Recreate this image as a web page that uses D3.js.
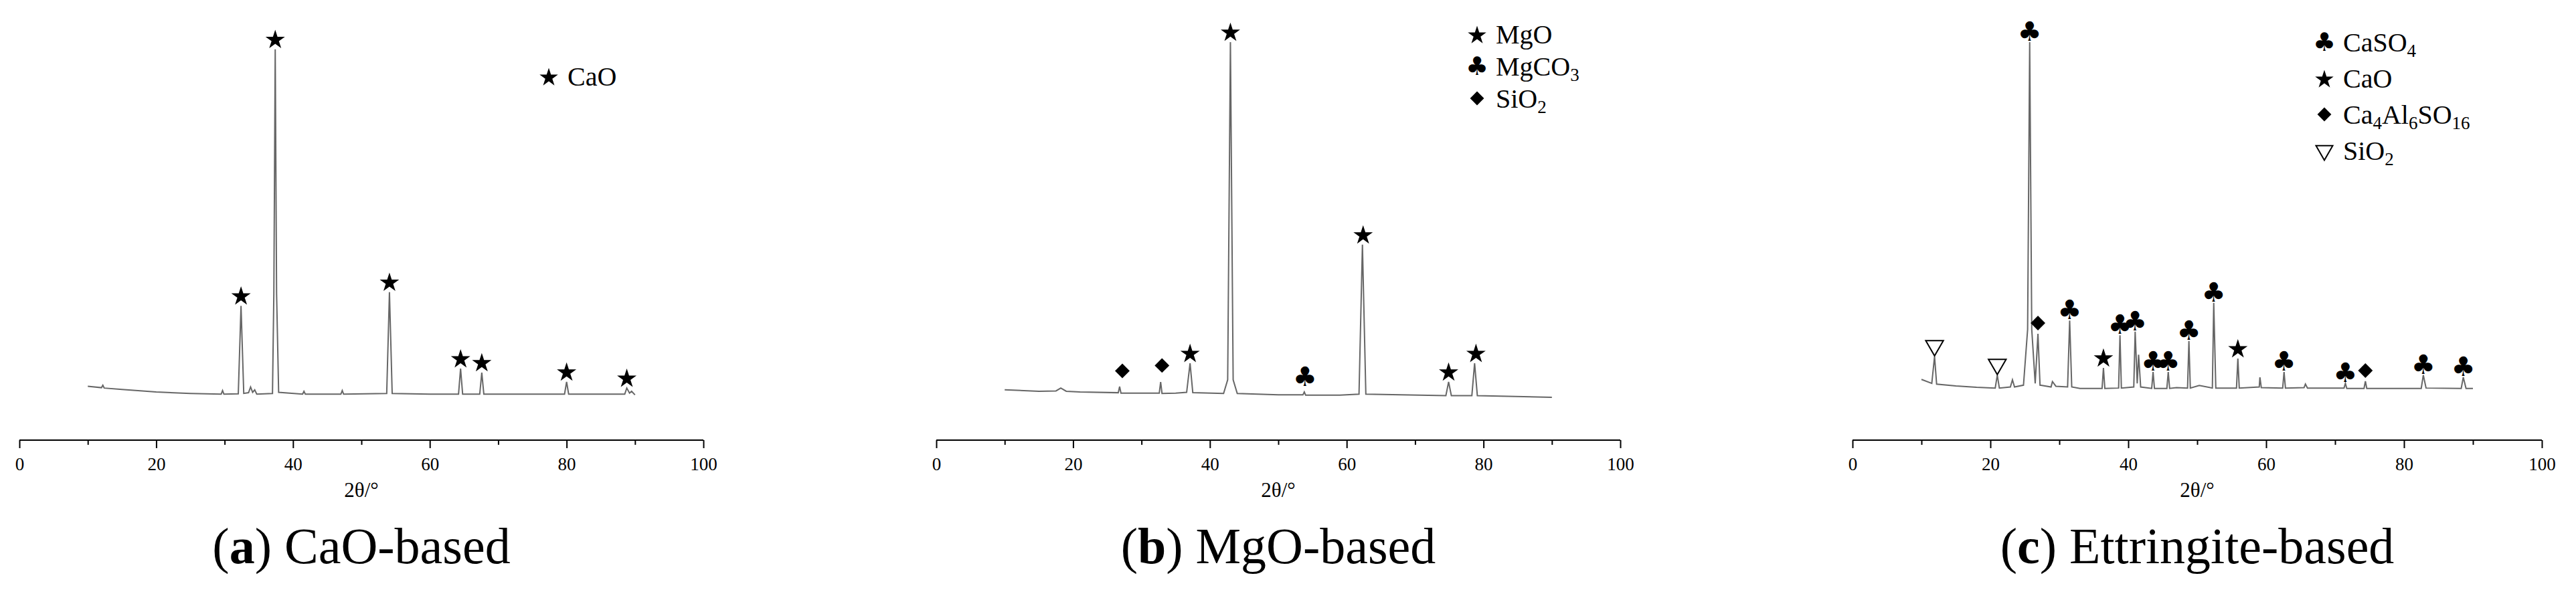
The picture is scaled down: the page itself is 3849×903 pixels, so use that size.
<!DOCTYPE html>
<html><head><meta charset="utf-8">
<script src="https://cdn.jsdelivr.net/npm/d3@7"></script>
<style>body{margin:0;background:#fff}svg{display:block}</style>
</head><body><svg id="c" width="3849" height="903"></svg>
<script>
const xTicks=[0,20,40,60,80,100];
const seriesA=[[10,4.2],[12,3.8],[12.2,4.5],[12.4,3.7],[15,3.3],[20,2.6],[25,2.2],[29.5,2],[29.7,3],[29.9,2],[32,2.1],[32.4,26.6],[32.8,2.2],[33.5,2.4],[33.8,4],[34.1,2.5],[34.4,3.2],[34.7,2],[37,2.2],[37.2,30],[37.4,98],[37.6,30],[37.9,2.5],[41.4,2],[41.6,2.8],[41.8,2],[47,2],[47.2,3],[47.4,2],[53.7,2.2],[54.1,30.4],[54.5,2.2],[60,2],[64.2,2],[64.5,9.1],[64.8,2],[67.3,2],[67.6,8],[67.9,2],[79.7,2],[80,5.4],[80.3,2],[88.5,2],[88.8,3.7],[89.2,2.3],[89.5,2.8],[90,1.8]];
const seriesB=[[10,3.2],[15,2.8],[17.5,2.9],[18.2,3.7],[19,2.8],[21,2.6],[26.6,2.4],[26.8,4.1],[27,2.3],[32.6,2.3],[32.8,5.4],[33,2.2],[35,2.3],[36.6,2.5],[37.1,10.6],[37.5,2.4],[42,2.2],[42.6,6],[43,100],[43.4,6],[44,2.2],[50,1.8],[53.6,1.8],[53.8,2.6],[54,1.7],[59,1.7],[61.8,2],[62.3,43.6],[62.8,2],[74.5,1.6],[74.9,5.4],[75.3,1.6],[78.3,1.6],[78.7,10.6],[79.1,1.6],[90,1.1]];
const seriesC=[[10,6.1],[11.5,5],[11.9,12.5],[12.2,4.8],[15,4.3],[18,3.9],[20.7,3.7],[21,7.3],[21.3,3.7],[22.9,4],[23.2,6],[23.5,4],[24.8,4.5],[25.4,20],[25.7,100],[26,20],[26.5,5],[26.9,18.8],[27.2,4.5],[28.8,4],[29,5.5],[29.5,4.2],[31.2,4],[31.5,22.5],[31.8,4],[33,3.6],[36.2,3.6],[36.4,9.3],[36.6,3.6],[38.6,3.7],[38.8,18.4],[39,3.7],[40.8,4],[41,19.4],[41.3,5],[41.5,13],[41.8,4],[43.4,3.6],[43.6,8.2],[43.8,3.6],[45.6,3.6],[45.8,8.2],[46,3.6],[47,3.8],[48.6,3.7],[48.8,16.8],[49,3.7],[50.3,4.4],[52.2,3.7],[52.4,27.4],[52.7,3.7],[55.7,3.7],[55.9,11.9],[56.1,3.7],[59,4],[59.1,6.7],[59.3,3.8],[62.4,3.7],[62.6,8.2],[62.8,3.7],[65.5,3.8],[65.7,4.8],[66,3.7],[71.3,3.7],[71.5,5],[71.7,3.6],[74.2,3.6],[74.4,5.6],[74.6,3.6],[82.5,3.6],[82.8,7.3],[83.2,3.7],[88.3,3.6],[88.6,6.7],[89,3.6],[90,3.6]];
const markersA=[[32.4,26.6,"star"],[37.4,98,"star"],[54.1,30.4,"star"],[64.5,9.1,"star"],[67.6,8,"star"],[80,5.4,"star"],[88.8,3.7,"star"]];
const markersB=[[27.2,5.5,"diamond"],[33,7,"diamond"],[37.1,10.6,"star"],[43,100,"star"],[53.9,4,"club"],[62.4,43.6,"star"],[74.9,5.4,"star"],[78.9,10.6,"star"]];
const markersC=[[11.9,12.5,"tri"],[21,7.3,"tri"],[25.7,100,"club"],[26.9,18.8,"diamond"],[31.5,22.5,"club"],[36.4,9.3,"star"],[38.8,18.4,"club"],[41,19.4,"club"],[43.6,8.2,"club"],[45.8,8.2,"club"],[48.8,16.8,"club"],[52.4,27.4,"club"],[55.9,11.9,"star"],[62.6,8.2,"club"],[71.5,5,"club"],[74.4,5.6,"diamond"],[82.8,7.3,"club"],[88.6,6.7,"club"]];
const legendA=[["star","CaO",""]];
const legendB=[["star","MgO",""],["club","MgCO","3"],["diamond","SiO","2"]];
const legendC=[["club","CaSO","4"],["star","CaO",""],["diamond","Ca4Al6SO16",""],["tri","SiO","2"]];
const captions=[["a","CaO-based"],["b","MgO-based"],["c","Ettringite-based"]];

const svg=d3.select("#c");
svg.append("rect").attr("width",3849).attr("height",903).attr("fill","#fff");
const serif="'Liberation Serif','DejaVu Serif',serif";

function drawSym(g,type,x,y,s){
  s=s||1;
  if(type==="club"){
    g.append("text").attr("x",x).attr("y",y).attr("text-anchor","middle").attr("dominant-baseline","central")
     .attr("font-family","DejaVu Sans").attr("font-size",40*s).text("♣");
  }else if(type==="star"){
    g.append("path").attr("d",d3.symbol(d3.symbolStar,260*s*s)()).attr("transform",`translate(${x},${y+2})`).attr("fill","#000");
  }else if(type==="diamond"){
    g.append("path").attr("d",d3.symbol(d3.symbolSquare,240*s*s)()).attr("transform",`translate(${x},${y}) rotate(45)`).attr("fill","#000");
  }else{
    g.append("path").attr("d",d3.symbol(d3.symbolTriangle,300*s*s)()).attr("transform",`translate(${x},${y}) rotate(180)`).attr("fill","none").attr("stroke","#000").attr("stroke-width",2);
  }
}

function panel(x0,x1,data,markers,legend,legX,legY,legGap,cap){
  const g=svg.append("g");
  const x=d3.scaleLinear().domain([0,100]).range([x0,x1]);
  const y=d3.scaleLinear().domain([0,100]).range([600,63]);
  g.append("path").datum(data).attr("fill","none").attr("stroke","#666").attr("stroke-width",2)
   .attr("d",d3.line().x(d=>x(d[0])).y(d=>y(d[1])));
  markers.forEach(m=>drawSym(g,m[2],x(m[0]),y(m[1])-16));
  const ax=g.append("g").attr("transform","translate(0,658)");
  ax.call(d3.axisBottom(x).tickValues(xTicks).tickSize(12).tickFormat(d3.format("d")));
  ax.append("g").call(d3.axisBottom(x).tickValues(d3.range(10,100,20)).tickSize(7).tickFormat(""));
  ax.selectAll(".domain").attr("stroke","#000").attr("stroke-width",2).attr("d",`M${x0},0H${x1}`);
  ax.selectAll("line").attr("stroke","#000").attr("stroke-width",2);
  ax.selectAll("text").attr("font-family",serif).attr("font-size",27).attr("fill","#000").attr("dy","1.1em");
  g.append("text").attr("x",(x0+x1)/2).attr("y",743).attr("text-anchor","middle").attr("font-family",serif).attr("font-size",31).text("2θ/°");
  legend.forEach((l,i)=>{
    const yy=legY+i*legGap;
    drawSym(g,l[0],legX,yy,0.95);
    const t=g.append("text").attr("x",legX+28).attr("y",yy+14).attr("font-family",serif).attr("font-size",40);
    if(l[1]==="Ca4Al6SO16"){
      t.append("tspan").text("Ca");t.append("tspan").attr("font-size",27).attr("dy",8).text("4");
      t.append("tspan").attr("dy",-8).text("Al");t.append("tspan").attr("font-size",27).attr("dy",8).text("6");
      t.append("tspan").attr("dy",-8).text("SO");t.append("tspan").attr("font-size",27).attr("dy",8).text("16");
    }else{
      t.append("tspan").text(l[1]);
      if(l[2]) t.append("tspan").attr("font-size",27).attr("dy",8).text(l[2]);
    }
  });
  const c=g.append("text").attr("x",(x0+x1)/2).attr("y",842).attr("text-anchor","middle").attr("font-family",serif).attr("font-size",76);
  c.append("tspan").text("(");c.append("tspan").attr("font-weight","bold").text(cap[0]);c.append("tspan").text(") "+cap[1]);
}
panel(29,1051,seriesA,markersA,legendA,820,114,0,captions[0]);
panel(1399,2421,seriesB,markersB,legendB,2207,51,48,captions[1]);
panel(2768,3798,seriesC,markersC,legendC,3473,63,54,captions[2]);
</script></body></html>
